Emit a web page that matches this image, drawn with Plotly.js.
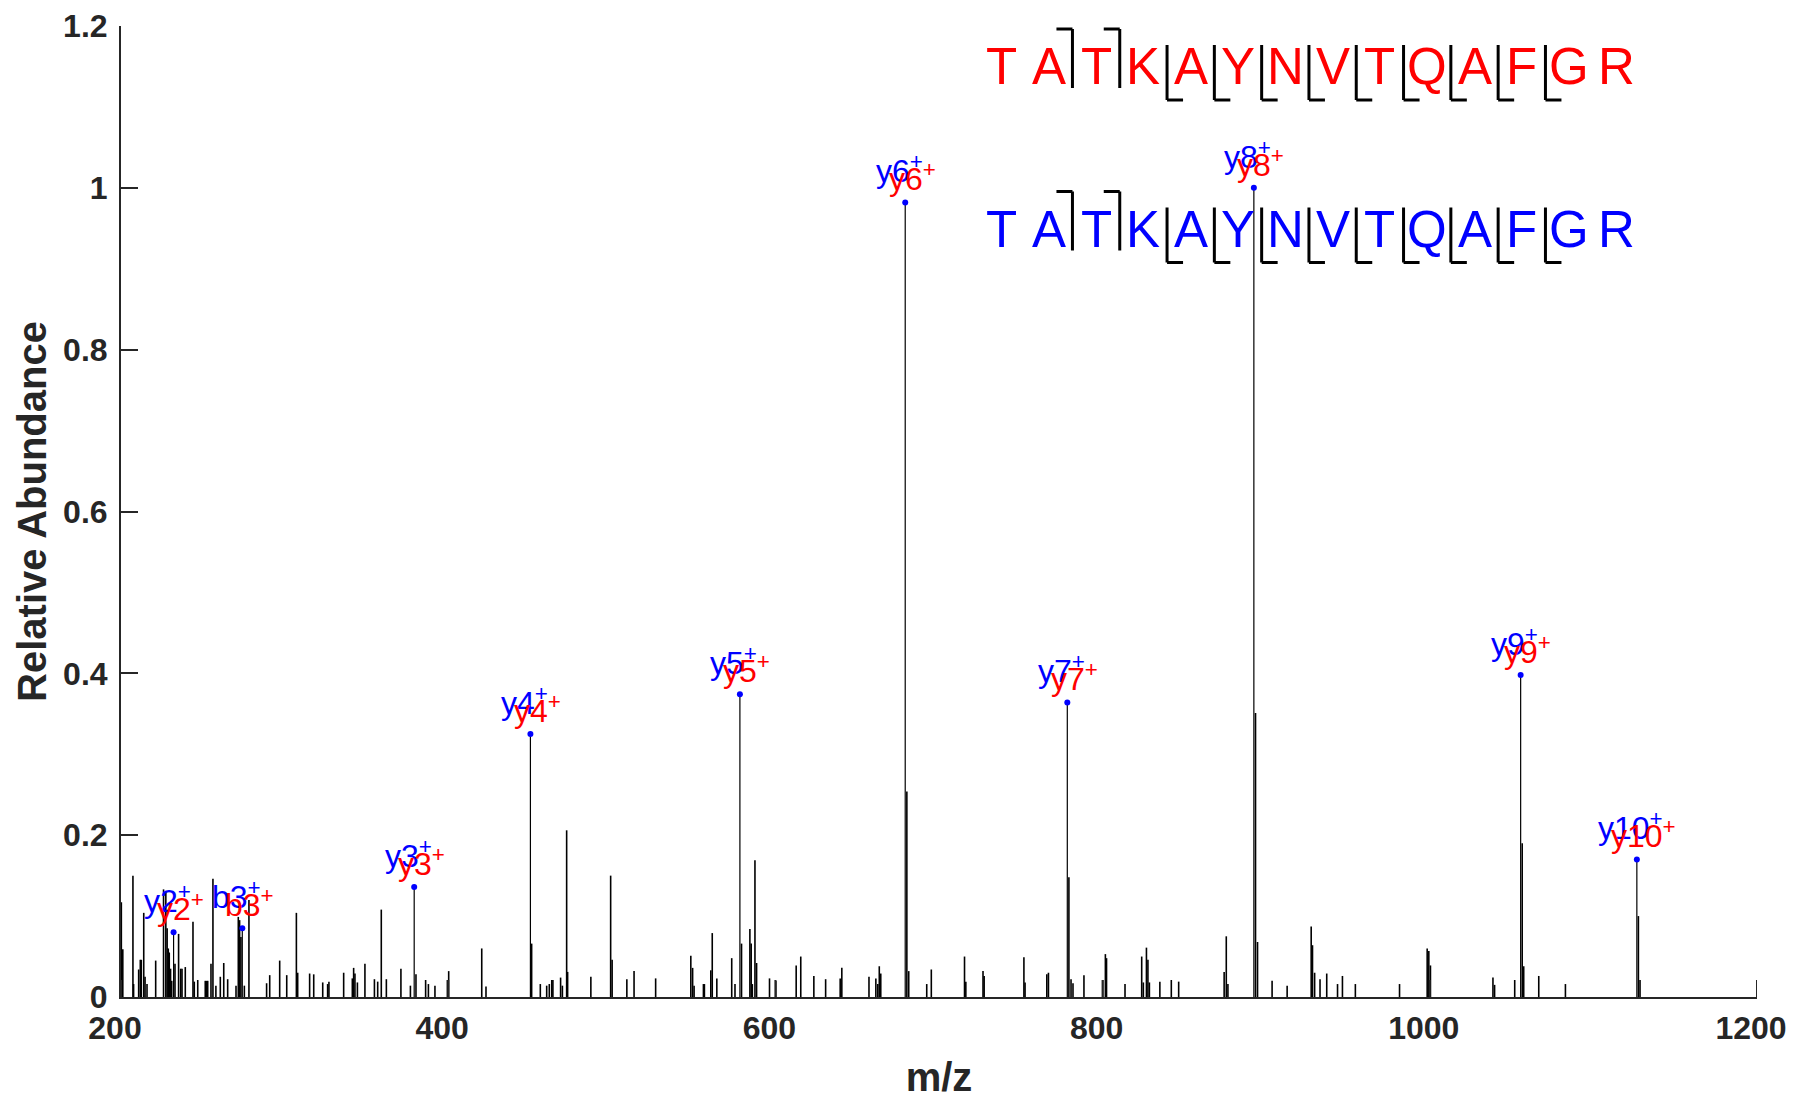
<!DOCTYPE html>
<html>
<head>
<meta charset="utf-8">
<script src="https://cdn.plot.ly/plotly-3.0.1.min.js"></script>
<style>html,body{margin:0;padding:0;background:#fff;}#chart{width:1804px;height:1099px;}</style>
</head>
<body>
<div id="chart"></div>
<script>
// ---------------- DATA ----------------
const peakMz = [200.2,201.1,207.3,207.7,210.8,211.8,212.4,213.9,214.7,215.9,221.2,226.0,227.4,228.2,228.9,229.5,230.3,231.0,
  233.0,235.2,236.5,237.3,239.3,244.0,244.8,246.9,251.5,252.3,253.0,255.0,256.2,258.0,260.7,262.8,265.2,270.3,271.7,272.5,273.3,
  275.4,278.2,289.0,290.9,297.0,301.3,307.2,308.0,315.3,317.8,323.3,326.3,327.1,336.1,341.4,342.2,343.0,344.5,349.1,354.9,356.9,
  359.1,362.2,371.1,376.9,380.3,386.2,387.9,391.9,399.5,400.3,420.5,423.1,451.0,456.3,460.2,461.8,463.3,464.0,468.7,469.8,472.4,
  473.0,487.2,499.3,500.2,509.2,513.6,526.8,548.3,549.4,550.3,556.0,556.6,560.5,561.4,564.2,573.3,575.3,579.3,584.4,585.2,585.9,
  587.5,588.5,596.4,600.3,612.7,615.5,623.5,630.7,639.6,640.6,657.2,661.4,662.6,663.5,664.4,680.35,681.5,692.5,695.3,715.6,716.4,
  726.9,727.6,751.9,752.6,765.9,766.9,779.4,780.7,781.9,788.6,800.1,801.7,802.4,813.7,823.9,824.9,826.8,827.7,828.6,835.0,842.0,
  846.5,874.3,875.6,876.6,893.47,894.7,903.6,912.8,927.5,928.3,929.6,932.9,937.0,943.6,946.6,954.5,981.5,998.4,999.4,1000.4,
  1038.6,1039.6,1051.9,1056.5,1057.4,1066.6,1082.9,1127.5,1128.5];
const peakAbundance = [0.117,0.059,0.150,0.016,0.034,0.046,0.046,0.104,0.025,0.016,0.045,0.133,0.130,0.085,0.060,0.055,0.035,0.020,
  0.041,0.078,0.035,0.035,0.037,0.093,0.019,0.021,0.020,0.020,0.020,0.041,0.146,0.014,0.025,0.042,0.022,0.014,0.099,0.095,0.074,
  0.014,0.120,0.017,0.027,0.045,0.027,0.104,0.030,0.029,0.028,0.018,0.016,0.019,0.030,0.023,0.036,0.029,0.018,0.041,0.022,0.019,
  0.108,0.022,0.035,0.014,0.028,0.021,0.016,0.014,0.021,0.032,0.060,0.013,0.066,0.016,0.014,0.016,0.021,0.021,0.024,0.014,0.206,
  0.031,0.025,0.150,0.046,0.022,0.032,0.023,0.051,0.036,0.014,0.016,0.016,0.033,0.079,0.023,0.048,0.016,0.066,0.084,0.066,0.016,
  0.169,0.042,0.023,0.020,0.039,0.050,0.026,0.022,0.023,0.036,0.025,0.023,0.016,0.038,0.029,0.254,0.032,0.016,0.034,0.050,0.019,
  0.032,0.026,0.049,0.018,0.028,0.030,0.148,0.022,0.017,0.027,0.021,0.053,0.048,0.016,0.050,0.018,0.061,0.046,0.018,0.019,0.021,
  0.019,0.031,0.075,0.016,0.351,0.068,0.020,0.014,0.087,0.064,0.030,0.022,0.029,0.016,0.026,0.016,0.016,0.060,0.057,0.039,
  0.024,0.015,0.021,0.190,0.038,0.026,0.016,0.100,0.021];

const ionNames = ["y2","b3","y3","y4","y5","y6","y7","y8","y9","y10"];
const ionMz = [232.14,274.14,379.21,450.25,578.30,679.35,778.42,892.46,1055.53,1126.56];
const ionAbundance = [0.080,0.085,0.136,0.325,0.374,0.982,0.364,1.000,0.398,0.170];

const sequence = "TATKAYNVTQAFGR";
const bCleavageAfter = [2,3];                 // b2, b3
const yCleavageAfter = [4,5,6,7,8,9,10,11,12]; // y10 ... y2

const xTickVals = [200,400,600,800,1000,1200];
const yTickVals = [0,0.2,0.4,0.6,0.8,1,1.2];

// ---------------- GEOMETRY HELPERS (layout only) ----------------
const W = 1804, H = 1099;
const mL = 121, mR = 47, mT = 26, mB = 102;
const plotW = W - mL - mR, plotH = H - mT - mB;
const xr = [200,1200], yr = [0,1.2];
const px2x = p => xr[0] + (p - mL) / plotW * (xr[1]-xr[0]);
const py2y = p => yr[0] + (H - mB - p) / plotH * (yr[1]-yr[0]);
const TICKLEN = 17;

const RED = "#FF0000", BLUE = "#0000FF", INK = "#262626";
const FONT = 'Arial, "Liberation Sans", Helvetica, sans-serif';

// ---------------- TRACES ----------------
const stemX = [], stemY = [];
peakMz.forEach((m,i)=>{ stemX.push(m,m,null); stemY.push(0,peakAbundance[i],null); });
const ionX = [], ionY = [];
ionMz.forEach((m,i)=>{ ionX.push(m,m,null); ionY.push(0,ionAbundance[i],null); });

const traces = [
  {type:"scatter", mode:"lines", x:stemX, y:stemY, line:{color:"#000", width:1.6}, hoverinfo:"skip", showlegend:false},
  {type:"scatter", mode:"lines", x:ionX, y:ionY, line:{color:"#000", width:1.2}, hoverinfo:"skip", showlegend:false},
  {type:"scatter", mode:"markers", x:ionMz, y:ionAbundance, marker:{color:BLUE, size:6}, hoverinfo:"skip", showlegend:false}
];

// ---------------- ANNOTATIONS ----------------
const annotations = [];
ionNames.forEach((n,i)=>{
  annotations.push({x:ionMz[i], y:ionAbundance[i], xref:"x", yref:"y", text:n+"<sup>+</sup>", showarrow:false,
    xanchor:"center", yanchor:"bottom", xshift:-6, yshift:11, font:{family:FONT, size:32, color:BLUE}});
  annotations.push({x:ionMz[i], y:ionAbundance[i], xref:"x", yref:"y", text:n+"<sup>+</sup>", showarrow:false,
    xanchor:"center", yanchor:"bottom", xshift:7, yshift:3, font:{family:FONT, size:32, color:RED}});
});

const letterX0 = 1001.5, letterStep = 47.3;
const rows = [{color:RED, cy:66.7, off:0},{color:BLUE, cy:229.2, off:162.5}];
const shapes = [];
rows.forEach(r=>{
  sequence.split("").forEach((ch,i)=>{
    annotations.push({x:px2x(letterX0 + i*letterStep), y:py2y(r.cy), xref:"x", yref:"y", text:ch, showarrow:false,
      xanchor:"center", yanchor:"middle", font:{family:FONT, size:51, color:r.color}});
  });
  const ln = {color:"#000", width:3};
  bCleavageAfter.forEach(k=>{
    const bx = letterX0 + (k-0.5)*letterStep;
    shapes.push({type:"line", xref:"x", yref:"y", x0:px2x(bx), x1:px2x(bx), y0:py2y(29+r.off), y1:py2y(88+r.off), line:ln});
    shapes.push({type:"line", xref:"x", yref:"y", x0:px2x(bx-16), x1:px2x(bx), y0:py2y(29+r.off), y1:py2y(29+r.off), line:ln});
  });
  yCleavageAfter.forEach(k=>{
    const bx = letterX0 + (k-0.5)*letterStep;
    shapes.push({type:"line", xref:"x", yref:"y", x0:px2x(bx), x1:px2x(bx), y0:py2y(45+r.off), y1:py2y(100+r.off), line:ln});
    shapes.push({type:"line", xref:"x", yref:"y", x0:px2x(bx), x1:px2x(bx+16), y0:py2y(100+r.off), y1:py2y(100+r.off), line:ln});
  });
});

// x-axis inward ticks, drawn from the tick values
xTickVals.forEach(v=>{
  shapes.push({type:"line", xref:"x", yref:"y", x0:v, x1:v, y0:0, y1:py2y(H - mB - TICKLEN), line:{color:INK, width:2}});
});

// ---------------- LAYOUT ----------------
const layout = {
  width:W, height:H,
  margin:{l:mL, r:mR, t:mT, b:mB, pad:0},
  paper_bgcolor:"#fff", plot_bgcolor:"#fff",
  showlegend:false,
  xaxis:{range:xr, tickvals:xTickVals, ticks:"",
    showline:true, linewidth:2, linecolor:INK, showgrid:false, zeroline:false, mirror:false,
    ticklabelstandoff:2, ticklabelshift:-6,
    tickfont:{family:FONT, size:32, color:INK, weight:"bold"},
    title:{text:"m/z", standoff:24, font:{family:FONT, size:40, color:INK, weight:"bold"}}},
  yaxis:{range:yr, tickvals:yTickVals, ticks:"inside", ticklen:TICKLEN, tickwidth:2, tickcolor:INK,
    showline:true, linewidth:2, linecolor:INK, showgrid:false, zeroline:false, mirror:false,
    ticklabelstandoff:5,
    tickfont:{family:FONT, size:32, color:INK, weight:"bold"},
    title:{text:"Relative Abundance", standoff:4, font:{family:FONT, size:40, color:INK, weight:"bold"}}},
  annotations:annotations,
  shapes:shapes
};

Plotly.newPlot("chart", traces, layout, {displayModeBar:false, staticPlot:true});
</script>
</body>
</html>
